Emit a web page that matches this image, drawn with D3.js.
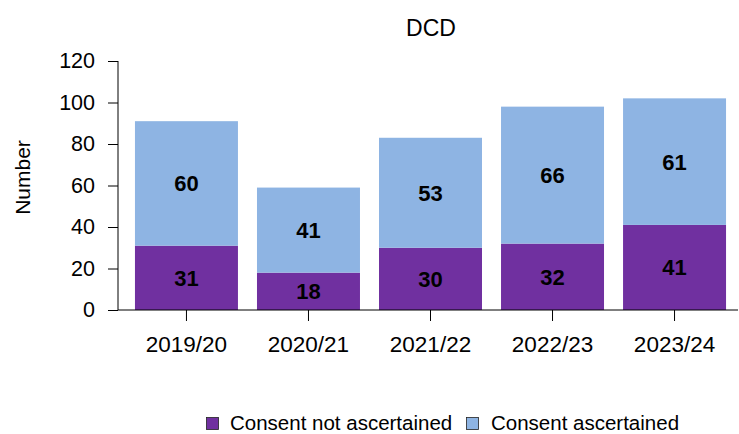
<!DOCTYPE html>
<html><head><meta charset="utf-8">
<script src="https://cdn.jsdelivr.net/npm/d3@7"></script>
<style>body{margin:0;background:#fff}svg{display:block;font-family:"Liberation Sans",Arial,sans-serif}</style>
</head><body><svg id="c" width="739" height="434"></svg>
<script>
const categories = ["2019/20","2020/21","2021/22","2022/23","2023/24"];
const notAscertained = [31,18,30,32,41];
const ascertained = [60,41,53,66,61];
const seriesNames = ["Consent not ascertained","Consent ascertained"];
const yTicks = [0,20,40,60,80,100,120];
const colors = ["#7030A0","#8EB4E3"];
const FF = "Liberation Sans, Arial, sans-serif";

const svg = d3.select("#c");
const x = d3.scaleBand().domain(categories).range([118,743]).paddingInner(0.156).paddingOuter(0.139);
const y = d3.scaleLinear().domain([0,120]).range([310,61]);

// title
svg.append("text").attr("x",431).attr("y",35.5).attr("text-anchor","middle").attr("font-size",23).text("DCD");
// y label
svg.append("text").attr("transform","translate(30,177.5) rotate(-90)").attr("text-anchor","middle").attr("font-size",21).text("Number");

const data = categories.map((c,i)=>({c, a:notAscertained[i], b:ascertained[i]}));
const g = svg.append("g");
data.forEach(d=>{
  g.append("rect").attr("x",x(d.c)).attr("width",x.bandwidth()).attr("y",y(d.a)).attr("height",y(0)-y(d.a)).attr("fill",colors[0]);
  g.append("rect").attr("x",x(d.c)).attr("width",x.bandwidth()).attr("y",y(d.a+d.b)).attr("height",y(d.a)-y(d.a+d.b)).attr("fill",colors[1]);
  g.append("text").attr("x",x(d.c)+x.bandwidth()/2).attr("y",(y(0)+y(d.a))/2).attr("dy","0.36em").attr("text-anchor","middle").attr("font-size",22).attr("font-weight","bold").text(d.a);
  g.append("text").attr("x",x(d.c)+x.bandwidth()/2).attr("y",(y(d.a)+y(d.a+d.b))/2).attr("dy","0.36em").attr("text-anchor","middle").attr("font-size",22).attr("font-weight","bold").text(d.b);
});

// y axis
const ya = svg.append("g").attr("transform","translate(118,0)").call(d3.axisLeft(y).tickValues(yTicks).tickSize(10).tickSizeOuter(0).tickPadding(13));
ya.select(".domain").attr("stroke","#000").attr("d","M0,61V310");
ya.selectAll("text").attr("font-size",21.5).attr("font-family",FF).attr("fill","#000");
// x axis
const xa = svg.append("g").attr("transform","translate(0,310)").call(d3.axisBottom(x).tickSize(11).tickSizeOuter(0).tickPadding(15));
xa.select(".domain").attr("d","M118,0H738").attr("stroke","#000");
xa.selectAll("text").attr("font-size",22.5).attr("font-family",FF).attr("fill","#000");

// legend
const leg = [{x:206,tx:230,t:seriesNames[0],c:colors[0]},{x:466,tx:491,t:seriesNames[1],c:colors[1]}];
leg.forEach(l=>{
  svg.append("rect").attr("x",l.x+0.5).attr("y",417.5).attr("width",12).attr("height",12).attr("fill",l.c).attr("stroke","#222").attr("stroke-width",0.8);
  svg.append("text").attr("x",l.tx).attr("y",429.5).attr("font-size",20.5).text(l.t);
});
</script></body></html>
